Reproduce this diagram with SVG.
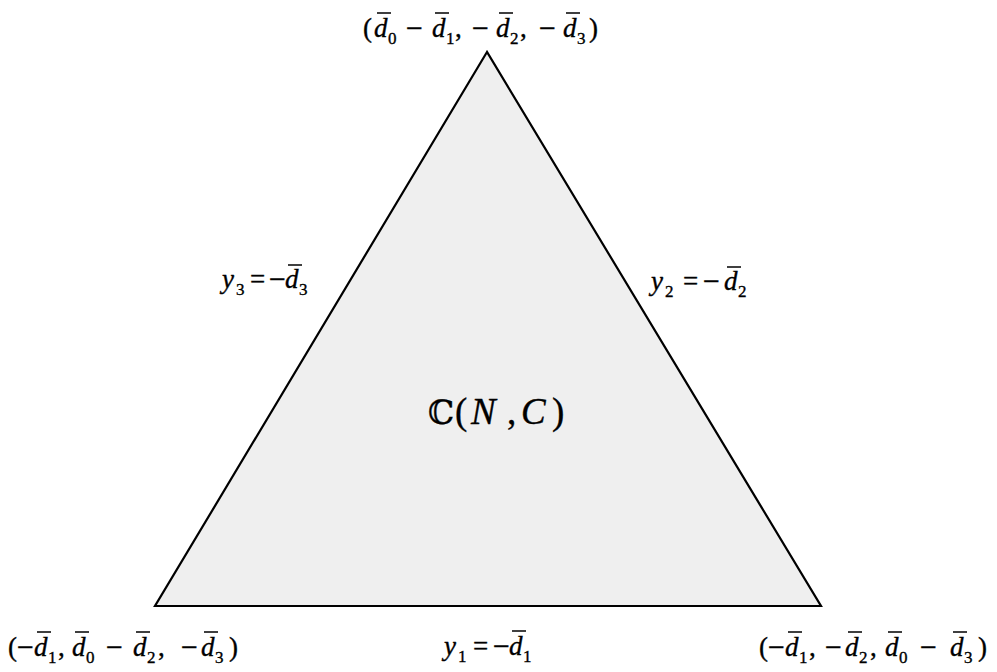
<svg xmlns="http://www.w3.org/2000/svg" width="997" height="672" viewBox="0 0 997 672">
<style>
.t{font-family:"Liberation Serif","Times New Roman","DejaVu Serif",serif;font-size:27px;fill:#000;stroke:#000;stroke-width:0.35px}
.i{font-style:italic}
.s{font-size:17px}
.m{font-size:30px}
.big{font-size:37px}
.ov{stroke:#000;stroke-width:1.5;fill:none}
.tri{fill:#efefef;stroke:#000;stroke-width:2.2;stroke-linejoin:miter}
</style>
<rect width="997" height="672" fill="#fff"/>
<g id="region">
<polygon class="tri" points="487,52 155,606 821,606"/>
<text class="t big" y="424"><tspan x="428" font-family="DejaVu Serif, serif" font-size="33">ℂ</tspan><tspan x="455">(</tspan><tspan x="471" class="i">N</tspan><tspan x="507">,</tspan><tspan x="521" class="i">C</tspan><tspan x="552">)</tspan></text>
</g>
<g id="vertex-top">
<text class="t"><tspan x="363" y="37">(</tspan><tspan x="374" y="37" class="i">d</tspan><tspan x="388" y="44" class="s">0</tspan><tspan x="406" y="38" class="m">−</tspan><tspan x="432" y="37" class="i">d</tspan><tspan x="446" y="44" class="s">1</tspan><tspan x="455" y="37">,</tspan><tspan x="472" y="38" class="m">−</tspan><tspan x="496" y="37" class="i">d</tspan><tspan x="510" y="44" class="s">2</tspan><tspan x="520" y="37">,</tspan><tspan x="539" y="38" class="m">−</tspan><tspan x="563" y="37" class="i">d</tspan><tspan x="577" y="44" class="s">3</tspan><tspan x="589" y="37">)</tspan></text>
<path class="ov" d="M377,13H391M435,13H449M499,13H513M566,13H580"/>
</g>
<g id="vertex-left">
<text class="t"><tspan x="8" y="656">(</tspan><tspan x="17" y="657" class="m">−</tspan><tspan x="34" y="656" class="i">d</tspan><tspan x="48" y="663" class="s">1</tspan><tspan x="58" y="656">,</tspan><tspan x="72" y="656" class="i">d</tspan><tspan x="86" y="663" class="s">0</tspan><tspan x="106" y="657" class="m">−</tspan><tspan x="133" y="656" class="i">d</tspan><tspan x="147" y="663" class="s">2</tspan><tspan x="158" y="656">,</tspan><tspan x="181" y="657" class="m">−</tspan><tspan x="201" y="656" class="i">d</tspan><tspan x="215" y="663" class="s">3</tspan><tspan x="229" y="656">)</tspan></text>
<path class="ov" d="M37,632H51M75,632H89M136,632H150M204,632H218"/>
</g>
<g id="vertex-right">
<text class="t"><tspan x="759" y="656">(</tspan><tspan x="768" y="657" class="m">−</tspan><tspan x="785" y="656" class="i">d</tspan><tspan x="799" y="663" class="s">1</tspan><tspan x="809" y="656">,</tspan><tspan x="825" y="657" class="m">−</tspan><tspan x="845" y="656" class="i">d</tspan><tspan x="859" y="663" class="s">2</tspan><tspan x="870" y="656">,</tspan><tspan x="885" y="656" class="i">d</tspan><tspan x="899" y="663" class="s">0</tspan><tspan x="920" y="657" class="m">−</tspan><tspan x="950" y="656" class="i">d</tspan><tspan x="964" y="663" class="s">3</tspan><tspan x="978" y="656">)</tspan></text>
<path class="ov" d="M788,632H802M848,632H862M888,632H902M953,632H967"/>
</g>
<g id="edge-bottom">
<text class="t"><tspan x="444" y="655" class="i">y</tspan><tspan x="458" y="662" class="s">1</tspan><tspan x="473" y="655">=</tspan><tspan x="493" y="656" class="m">−</tspan><tspan x="509" y="655" class="i">d</tspan><tspan x="523" y="662" class="s">1</tspan></text>
<path class="ov" d="M512,631H526"/>
</g>
<g id="edge-left">
<text class="t"><tspan x="222" y="288" class="i">y</tspan><tspan x="236" y="295" class="s">3</tspan><tspan x="250" y="288">=</tspan><tspan x="269" y="289" class="m">−</tspan><tspan x="285" y="288" class="i">d</tspan><tspan x="299" y="295" class="s">3</tspan></text>
<path class="ov" d="M288,265H302"/>
</g>
<g id="edge-right">
<text class="t"><tspan x="651" y="290" class="i">y</tspan><tspan x="665" y="297" class="s">2</tspan><tspan x="683" y="290">=</tspan><tspan x="703" y="291" class="m">−</tspan><tspan x="724" y="290" class="i">d</tspan><tspan x="738" y="297" class="s">2</tspan></text>
<path class="ov" d="M727,267H741"/>
</g>
</svg>
